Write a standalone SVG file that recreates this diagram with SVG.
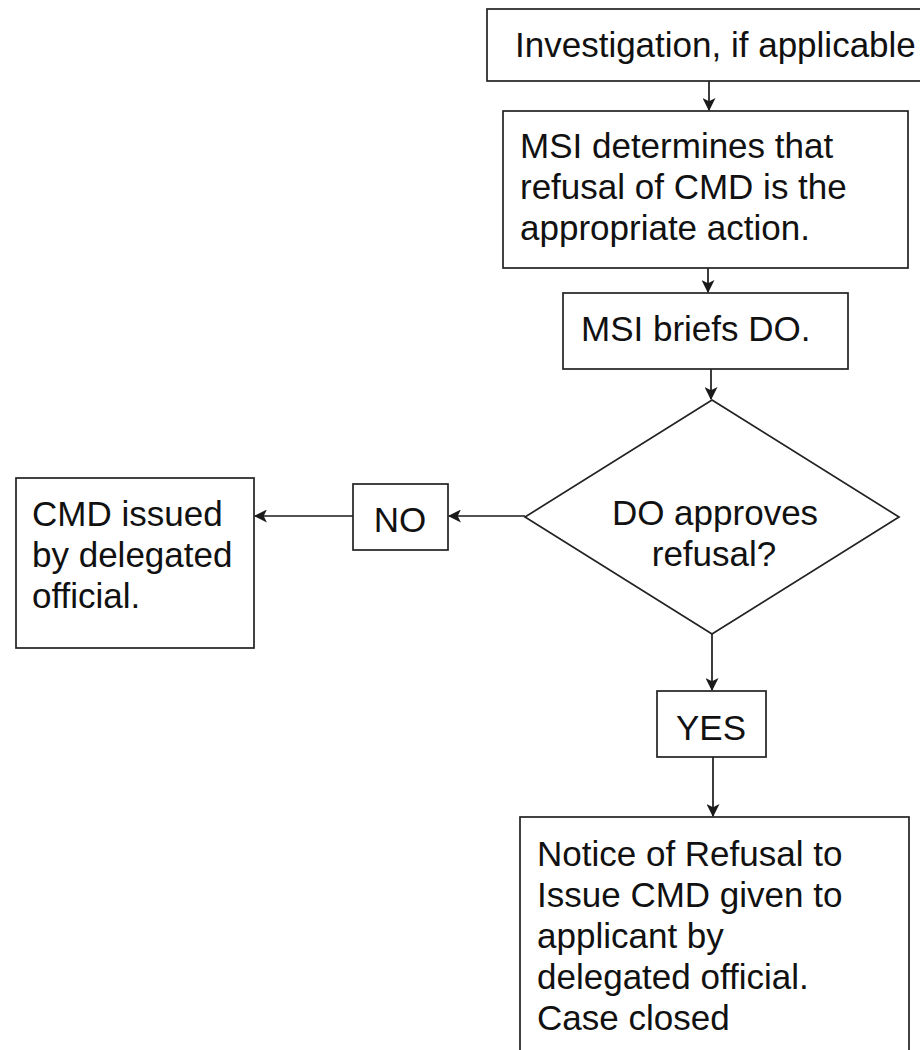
<svg xmlns="http://www.w3.org/2000/svg" width="920" height="1050" viewBox="0 0 920 1050">
  <defs>
    <marker id="arrow" viewBox="0 0 12 12" refX="11" refY="6" markerWidth="13" markerHeight="13" markerUnits="userSpaceOnUse" orient="auto">
      <path d="M0,0 L12,6 L0,12 L3,6 z" fill="#1a1a1a"/>
    </marker>
    <style>
      .box { fill: #ffffff; stroke: #222222; stroke-width: 1.7; }
      .txt { font-family: "Liberation Sans", Arial, sans-serif; font-size: 35px; fill: #111111; }
      .mid { text-anchor: middle; }
      .conn { stroke: #1a1a1a; stroke-width: 1.7; fill: none; marker-end: url(#arrow); }
    </style>
  </defs>
  <rect width="920" height="1050" fill="#ffffff"/>

  <g id="connectors">
    <line class="conn" x1="709" y1="81" x2="709" y2="110"/>
    <line class="conn" x1="708" y1="268" x2="708" y2="292"/>
    <line class="conn" x1="711" y1="369" x2="711" y2="399"/>
    <line class="conn" x1="525" y1="516" x2="449" y2="516"/>
    <line class="conn" x1="353" y1="516" x2="255" y2="516"/>
    <line class="conn" x1="712" y1="634" x2="712" y2="690"/>
    <line class="conn" x1="713" y1="757" x2="713" y2="816"/>
  </g>

  <g id="investigation">
    <rect class="box" x="487" y="9" width="440" height="72"/>
    <text class="txt" x="515" y="57">Investigation, if applicable</text>
  </g>

  <g id="msi-determines">
    <rect class="box" x="503" y="111" width="405" height="157"/>
    <text class="txt" x="520" y="158">MSI determines that</text>
    <text class="txt" x="520" y="199">refusal of CMD is the</text>
    <text class="txt" x="520" y="240">appropriate action.</text>
  </g>

  <g id="msi-briefs">
    <rect class="box" x="563" y="293" width="285" height="76"/>
    <text class="txt" x="581" y="341">MSI briefs DO.</text>
  </g>

  <g id="decision">
    <polygon class="box" points="712,400 899,517 712,634 525,517"/>
    <text class="txt mid" x="715" y="525">DO approves</text>
    <text class="txt mid" x="714" y="566">refusal?</text>
  </g>

  <g id="no">
    <rect class="box" x="353" y="484" width="95" height="66"/>
    <text class="txt mid" x="400" y="532">NO</text>
  </g>

  <g id="cmd-issued">
    <rect class="box" x="16" y="478" width="238" height="170"/>
    <text class="txt" x="32" y="526">CMD issued</text>
    <text class="txt" x="32" y="567">by delegated</text>
    <text class="txt" x="32" y="608">official.</text>
  </g>

  <g id="yes">
    <rect class="box" x="657" y="691" width="109" height="66"/>
    <text class="txt mid" x="711" y="740">YES</text>
  </g>

  <g id="notice">
    <rect class="box" x="520" y="817" width="389" height="250"/>
    <text class="txt" x="537" y="866">Notice of Refusal to</text>
    <text class="txt" x="537" y="907">Issue CMD given to</text>
    <text class="txt" x="537" y="948">applicant by</text>
    <text class="txt" x="537" y="989">delegated official.</text>
    <text class="txt" x="537" y="1030">Case closed</text>
  </g>
</svg>
